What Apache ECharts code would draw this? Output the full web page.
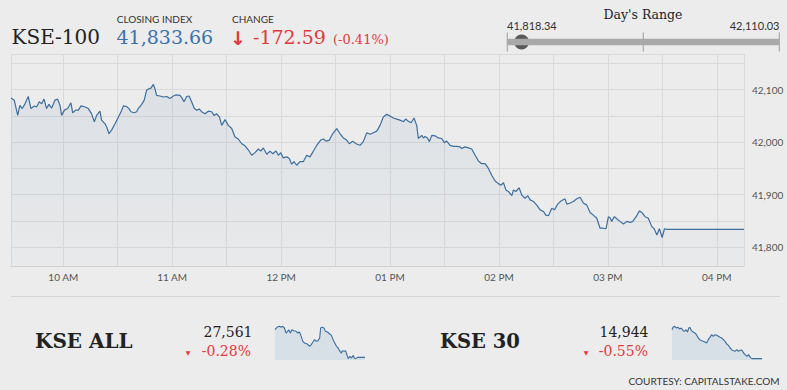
<!DOCTYPE html>
<html><head><meta charset="utf-8">
<script src="https://cdn.jsdelivr.net/npm/echarts@6/dist/echarts.min.js"></script>
<style>html,body{margin:0;padding:0;background:#ececec}#c{width:787px;height:390px}</style>
</head><body><div id="c"></div>
<script>
// ---- KSE-100 intraday (minutes of day, index value) ----
const times = [571.2,573.0,574.9,576.1,577.4,578.9,580.7,582.2,584.0,585.3,586.8,588.1,589.4,590.8,592.1,593.6,595.4,596.9,598.2,599.1,600.6,602.4,604.2,605.2,606.8,608.3,609.8,612.0,613.8,615.6,617.1,618.4,620.2,621.1,623.0,623.9,625.2,626.6,628.5,630.4,632.2,633.1,634.9,636.2,637.3,639.1,640.4,641.3,643.2,644.6,645.9,647.2,648.3,649.6,650.5,651.4,653.3,655.1,657.0,658.8,660.6,661.9,664.3,665.6,666.5,668.0,669.3,670.7,672.2,673.5,675.0,676.2,678.1,679.9,681.8,683.0,684.5,686.0,687.3,689.1,690.9,692.8,694.6,696.4,698.3,700.1,702.0,703.8,705.6,707.5,708.8,710.2,712.1,713.9,715.4,717.2,718.5,719.8,721.2,723.1,724.5,725.8,727.1,728.6,730.4,732.3,734.1,735.9,737.8,739.6,741.8,743.3,744.7,746.6,748.4,750.6,752.5,754.3,756.1,757.6,759.4,761.3,763.5,765.3,767.2,769.0,770.8,772.7,774.5,776.3,778.2,780.0,781.8,783.7,785.5,787.4,788.6,790.1,791.6,793.2,794.7,795.6,797.5,798.4,799.3,800.6,801.7,803.0,804.8,806.6,808.5,809.9,811.2,813.1,814.9,816.7,818.6,819.5,821.3,823.2,825.0,826.9,828.7,830.5,832.4,834.2,836.0,837.9,839.7,841.2,842.5,843.8,845.2,847.1,848.0,849.3,851.1,852.6,854.4,855.9,857.2,859.0,860.8,862.7,864.5,865.8,867.3,869.1,870.6,872.4,874.2,876.4,877.4,879.2,881.0,882.9,884.7,886.5,888.4,890.2,892.0,893.9,895.7,897.6,899.0,900.3,901.2,902.1,903.6,904.9,906.7,908.6,910.4,912.3,913.7,915.6,917.4,918.7,920.5,922.3,924.2,925.5,927.0,928.4,929.9,931.2,932.5,975.0];
const values = [42084,42080,42051,42070,42064,42073,42087,42064,42069,42067,42077,42073,42082,42064,42072,42065,42080,42082,42070,42051,42061,42064,42075,42056,42061,42061,42069,42067,42064,42054,42039,42051,42059,42042,42035,42029,42016,42023,42035,42048,42061,42069,42068,42064,42058,42056,42058,42064,42072,42080,42099,42102,42103,42110.03,42102,42089,42088,42086,42087,42083,42088,42090,42089,42083,42077,42087,42088,42077,42064,42061,42063,42058,42054,42059,42058,42051,42054,42048,42032,42043,42032,42026,42010,42006,41997,41993,41985,41975,41980,41987,41983,41989,41977,41983,41978,41983,41975,41980,41970,41972,41969,41958,41963,41956,41963,41963,41975,41972,41983,41994,42004,42006,42002,42004,42016,42026,42016,42008,42004,41997,42002,41997,41994,42001,42018,42015,42018,42021,42032,42048,42053,42050,42046,42044,42042,42039,42044,42040,42037,42046,42032,42007,42013,42008,42011,42008,42001,42013,42012,42008,42007,41999,42002,41994,41992,41992,41991,41988,41991,41989,41987,41975,41964,41959,41959,41950,41937,41926,41921,41918,41923,41909,41906,41898,41909,41906,41913,41899,41893,41898,41890,41887,41880,41871,41868,41861,41860,41874,41871,41882,41888,41892,41882,41884,41887,41892,41895,41884,41880,41866,41861,41855,41836,41836,41835,41858,41856,41849,41858,41854,41849,41844,41849,41847,41849,41858,41869,41866,41858,41855,41839,41835,41823,41835,41818.34,41835,41833.66,41833.66];

// ---- header figures ----
const closingIndex = 41833.66;
const change = -172.59;
const changePct = -0.41;
const dayLow = 41818.34;
const dayHigh = 42110.03;

// ---- x tick labels (hour positions in minutes of day) ----
const hourTicks = [600,660,720,780,840,900,960];
const hourLabels = ['10 AM','11 AM','12 PM','01 PM','02 PM','03 PM','04 PM'];

// ---- KSE ALL sparkline ----
const allTimes = [571,580,590.6,598.1,605.7,613.2,620.7,628.3,632.8,640.3,646.4,655.4,666,673.5,681,688.6,696.1,703.7,715.7,726.3,733.8,741.3,748.9,756.4,764,771.5,776,782,791.1,797.1,806.2,816.7,824.3,831.8,839.3,846.9,854.4,862,869.5,872.5,881.5,887.6,893.6,899.6,907.2,914.7,922.2,926.8,932.8,941.8,975];
const allValues = [27644,27651,27654,27651,27654,27649,27634,27639,27644,27634,27644,27641,27639,27634,27637,27624,27609,27604,27601,27594,27599,27607,27614,27609,27611,27619,27649,27651,27649,27639,27637,27631,27627,27614,27604,27594,27589,27579,27574,27581,27579,27581,27569,27557,27564,27559,27567,27559,27557,27561,27561];
const allClose = 27561, allPct = -0.28;

// ---- KSE 30 sparkline ----
const k30Times = [571,575.5,583,590.6,598.1,605.7,613.2,620.7,628.3,632.8,640.3,646.4,650.9,658.4,666,673.5,681,688.6,696.1,703.7,711.2,718.7,726.3,733.8,741.3,748.9,756.4,764,771.5,779.1,786.6,794.1,801.7,809.2,816.7,824.3,831.8,839.3,846.9,854.4,862,869.5,877,884.6,892.1,899.6,907.2,914.7,922.2,929.8,944.9,975];
const k30Values = [15031,15038,15041,15036,15038,15033,15036,15028,15026,15031,15024,15036,15038,15028,15024,15021,15016,15006,15001,14998,14996,14994,14991,15001,15008,15016,15011,15016,15014,15011,15008,15006,15001,14996,14988,14984,14976,14971,14968,14966,14971,14966,14969,14970,14961,14956,14951,14956,14948,14944,14944,14944];
const k30Close = 14944, k30Pct = -0.55;

const fmt = (v, d) => v.toLocaleString('en-US', {minimumFractionDigits: d, maximumFractionDigits: d});
const signed = (v, d) => (v < 0 ? '-' : '+') + fmt(Math.abs(v), d);

const RED = '#e0393c', BLUE = '#3a72ad', LINE = '#3d6e9e';
const SERIF = 'DejaVu Serif', SANS = 'Lato';

const chart = echarts.init(document.getElementById('c'), null, {renderer: 'svg'});
const sparkSeries = (idx, t, v) => ({
  type: 'line', xAxisIndex: idx, yAxisIndex: idx, showSymbol: false, silent: true,
  data: t.map((x, i) => [x, v[i]]),
  lineStyle: {color: LINE, width: 1.1},
  areaStyle: {color: '#d7dfe7', opacity: 1, origin: 'start'}
});
const hiddenAxis = (idx, min, max) => ({type: 'value', gridIndex: idx, min, max, show: false});

chart.setOption({
  animation: false,
  backgroundColor: '#ececec',
  grid: [
    {left: 11, top: 54, width: 733, height: 212},
    {left: 507.3, top: 32, width: 272, height: 20},
    {left: 275, top: 325, width: 90, height: 35},
    {left: 672, top: 325, width: 90, height: 35}
  ],
  xAxis: [
    {type: 'value', gridIndex: 0, min: 571.2, max: 975, minInterval: 30, maxInterval: 30,
     axisLine: {show: true, lineStyle: {color: '#cfcfcf'}}, axisTick: {show: false},
     splitLine: {show: true, lineStyle: {color: '#d9d9d9', width: 1}},
     axisLabel: {color: '#555', fontFamily: SANS, fontSize: 10, margin: 6,
       formatter: v => { const i = hourTicks.indexOf(Math.round(v)); return (i >= 0 && Math.abs(v - hourTicks[i]) < 0.01) ? hourLabels[i] : ''; }}},
    hiddenAxis(1, dayLow, dayHigh),
    hiddenAxis(2, 571, 975),
    hiddenAxis(3, 571, 975)
  ],
  yAxis: [
    {type: 'value', gridIndex: 0, position: 'right', min: 41764, max: 42168, minInterval: 50, maxInterval: 50,
     axisLine: {show: false}, axisTick: {show: false},
     splitLine: {show: true, lineStyle: {color: '#d9d9d9', width: 1}},
     axisLabel: {color: '#555', fontFamily: SANS, fontSize: 10, margin: 8,
       formatter: v => (Math.abs(v % 100) < 0.01) ? fmt(v, 0) : ''}},
    hiddenAxis(1, -1, 1),
    hiddenAxis(2, 27553, 27658),
    hiddenAxis(3, 14940, 15045)
  ],
  series: [
    {type: 'line', xAxisIndex: 0, yAxisIndex: 0, showSymbol: false, silent: true,
     data: times.map((t, i) => [t, values[i]]),
     lineStyle: {color: LINE, width: 1.2},
     areaStyle: {origin: 'start', color: new echarts.graphic.LinearGradient(0, 0, 0, 1, [
       {offset: 0, color: 'rgba(61,110,158,0.13)'}, {offset: 1, color: 'rgba(61,110,158,0.03)'}])}},
    {type: 'line', xAxisIndex: 1, yAxisIndex: 1, showSymbol: false, silent: true,
     data: [[dayLow, 0], [dayHigh, 0]], lineStyle: {color: '#a9a9a9', width: 6.5}},
    {type: 'scatter', xAxisIndex: 1, yAxisIndex: 1, silent: true, symbol: 'rect', symbolSize: [1.2, 19],
     itemStyle: {color: '#999'}, data: [[dayLow, 0], [(dayLow + dayHigh) / 2, 0], [dayHigh, 0]]},
    {type: 'scatter', xAxisIndex: 1, yAxisIndex: 1, silent: true, symbolSize: 15,
     itemStyle: {color: '#333'}, data: [[closingIndex, 0]]},
    sparkSeries(2, allTimes, allValues),
    sparkSeries(3, k30Times, k30Values)
  ],
  graphic: [
    {type: 'text', left: 11.5, top: 27, style: {text: 'KSE-100', font: `20px "${SERIF}"`, fill: '#222'}},
    {type: 'text', left: 116.7, top: 13.5, style: {text: 'CLOSING INDEX', font: `10px ${SANS}`, fill: '#333'}},
    {type: 'text', left: 116.5, top: 27, style: {text: fmt(closingIndex, 2), font: `19px "${SERIF}"`, fill: BLUE}},
    {type: 'text', left: 232, top: 13.5, style: {text: 'CHANGE', font: `10px ${SANS}`, fill: '#333'}},
    {type: 'text', left: 230, top: 28, style: {text: '↓', font: `bold 19px "DejaVu Sans"`, fill: RED}},
    {type: 'text', left: 253, top: 27, style: {text: signed(change, 2), font: `19px "${SERIF}"`, fill: RED}},
    {type: 'text', left: 333, top: 33, style: {text: '(' + signed(changePct, 2) + '%)', font: `13px "${SERIF}"`, fill: RED}},
    {type: 'text', x: 643, y: 14, style: {text: "Day's Range", font: `12.5px "${SERIF}"`, fill: '#222', align: 'center', verticalAlign: 'middle'}},
    {type: 'text', x: 507, y: 25, style: {text: fmt(dayLow, 2), font: `11px ${SANS}`, fill: '#333', align: 'left', verticalAlign: 'middle'}},
    {type: 'text', x: 779.5, y: 25, style: {text: fmt(dayHigh, 2), font: `11px ${SANS}`, fill: '#333', align: 'right', verticalAlign: 'middle'}},
    {type: 'line', shape: {x1: 11, y1: 296.5, x2: 780, y2: 296.5}, style: {stroke: '#d3d3d3', lineWidth: 1}},
    {type: 'text', x: 35, y: 341, style: {text: 'KSE ALL', font: `bold 20px "${SERIF}"`, fill: '#222', verticalAlign: 'middle'}},
    {type: 'text', x: 252.5, y: 332, style: {text: fmt(allClose, 0), font: `14px "${SERIF}"`, fill: '#222', align: 'right', verticalAlign: 'middle'}},
    {type: 'text', x: 251, y: 351, style: {text: signed(allPct, 2) + '%', font: `14px "${SERIF}"`, fill: RED, align: 'right', verticalAlign: 'middle'}},
    {type: 'text', x: 188, y: 352, style: {text: '▼', font: `6px "DejaVu Sans"`, fill: RED, align: 'center', verticalAlign: 'middle'}},
    {type: 'text', x: 440, y: 341, style: {text: 'KSE 30', font: `bold 19.5px "${SERIF}"`, fill: '#222', verticalAlign: 'middle'}},
    {type: 'text', x: 648.5, y: 332, style: {text: fmt(k30Close, 0), font: `14px "${SERIF}"`, fill: '#222', align: 'right', verticalAlign: 'middle'}},
    {type: 'text', x: 648, y: 351, style: {text: signed(k30Pct, 2) + '%', font: `14px "${SERIF}"`, fill: RED, align: 'right', verticalAlign: 'middle'}},
    {type: 'text', x: 586, y: 352, style: {text: '▼', font: `6px "DejaVu Sans"`, fill: RED, align: 'center', verticalAlign: 'middle'}},
    {type: 'text', x: 779.5, y: 380.5, style: {text: 'COURTESY: CAPITALSTAKE.COM', font: `10px ${SANS}`, fill: '#333', align: 'right', verticalAlign: 'middle'}}
  ]
});
</script></body></html>
